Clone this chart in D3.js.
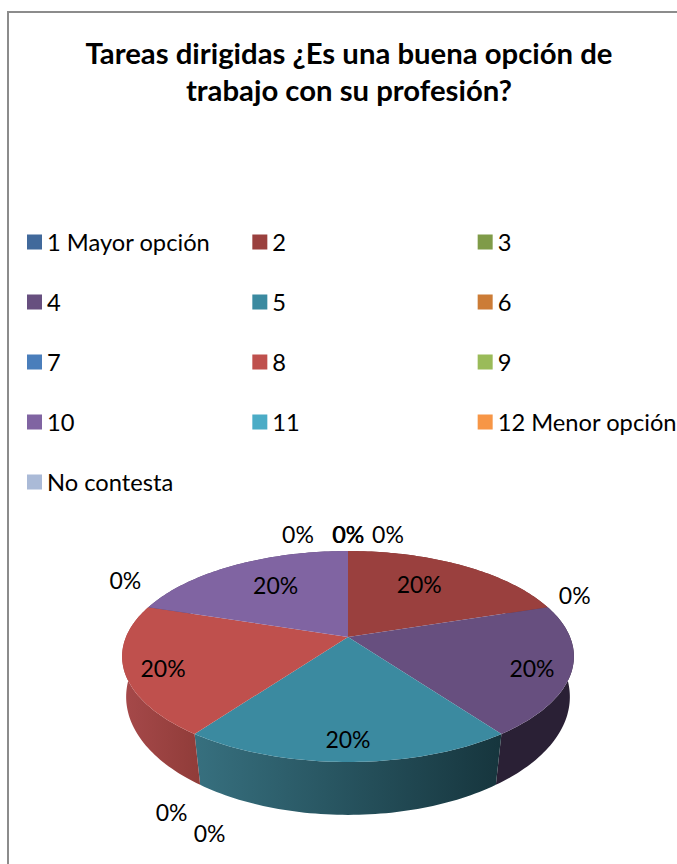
<!DOCTYPE html>
<html><head><meta charset="utf-8">
<style>html,body{margin:0;padding:0;background:#fff}svg{display:block}text{font-family:Lato,"Open Sans",sans-serif;fill:#000}</style>
<script src="https://cdn.jsdelivr.net/npm/d3@7"></script></head><body>
<script>
const categories = ["1 Mayor opción","2","3","4","5","6","7","8","9","10","11","12 Menor opción","No contesta"];
const values = [0,1,0,1,1,0,0,1,0,1,0,0,0];
const titleLines = ["Tareas dirigidas ¿Es una buena opción de","trabajo con su profesión?"];
const palette = ["#41699B","#9A403E","#7F9B48","#674F7F","#3B8AA0","#CC7C36","#4A7EBB","#BF504D","#9ABB59","#8064A2","#4BACC6","#F79646","#AABAD7"];

// layout, not data
const W=677,H=864;
const top3D={cx:348,cy:637,A:222,B:101.9,k:0.1848};
const bot3D={cx:348,cy:678,A:219,B:115,k:0.16};
const wallByCat={"4":["#2a2035","#2a2035"],"5":["#16353d","#37707f"],"8":["#903c39","#a6494a"],"2":["#7a3331","#7a3331"],"10":["#5a4672","#5a4672"]};
const labelNudge={"1 Mayor opción":[40,-16],"3":[27,-11],"6":[-23,79],"7":[15,100],"9":[-23,-26],"11":[-50,-16],"12 Menor opción":[0,-16],"No contesta":[0.6,-16]};
const midR={"2":[0.64,-5,-4],"4":[0.83,0,5],"5":[0.85,0,0],"8":[0.83,-1,5],"10":[0.66,6,-1]};

const svg=d3.select("body").append("svg").attr("width",W).attr("height",H);
svg.append("rect").attr("x",8).attr("y",12).attr("width",W+20).attr("height",H+20)
  .attr("fill","#fff").attr("stroke","#8c8c8c").attr("stroke-width",2);

svg.append("g").selectAll("text").data(titleLines).join("text")
  .attr("x",349).attr("y",(d,i)=>64+i*37).attr("text-anchor","middle")
  .attr("font-size",29.3).attr("font-weight",700).text(d=>d);

const color=d3.scaleOrdinal().domain(categories).range(palette);
const legendX=d3.scaleBand().domain([0,1,2]).range([27,703]);
const legendY=d3.scalePoint().domain([0,1,2,3,4]).range([242,482]);
const leg=svg.append("g").selectAll("g").data(categories).join("g")
  .attr("transform",(d,i)=>`translate(${legendX(i%3)},${legendY(Math.floor(i/3))})`);
leg.append("rect").attr("y",-7.5).attr("width",15).attr("height",15).attr("fill",d=>color(d));
leg.append("text").attr("x",20).attr("y",9).attr("font-size",23.7).text(d=>d);

const pie=d3.pie().sort(null).value((d,i)=>values[i]);
const arcs=pie(categories);
const proj=(p,th,r=1)=>{const u=r*Math.sin(th),v=r*Math.cos(th),w=1+p.k*v;return [p.cx+p.A*u/w,p.cy-p.B*v/w];};
const line=d3.line();
const thetas=(a,b)=>d3.range(0,61).map(i=>a+(b-a)*i/60);

const defs=svg.append("defs");
const nz=arcs.filter(d=>d.value>0);
const walls=svg.append("g");
nz.forEach((d,i)=>{
  const ts=thetas(d.startAngle,d.endAngle);
  const pts=ts.map(t=>proj(top3D,t)).concat(ts.slice().reverse().map(t=>proj(bot3D,t)));
  const stops=wallByCat[d.data];
  const xs=pts.map(p=>p[0]);
  const g=defs.append("linearGradient").attr("id","w"+i).attr("gradientUnits","userSpaceOnUse")
    .attr("x1",d.data==="5"?194:d3.min(xs)).attr("x2",d.data==="5"?502:d3.max(xs));
  g.append("stop").attr("offset",0).attr("stop-color",stops[1]);
  g.append("stop").attr("offset",1).attr("stop-color",stops[0]);
  walls.append("path").attr("d",line(pts)+"Z").attr("fill",`url(#w${i})`);
});
const tops=svg.append("g");
nz.forEach(d=>{
  const pts=[proj(top3D,0,0)].concat(thetas(d.startAngle,d.endAngle).map(t=>proj(top3D,t)));
  tops.append("path").attr("d",line(pts)+"Z").attr("fill",color(d.data));
});
const labels=svg.append("g").attr("text-anchor","middle").attr("font-size",23);
arcs.forEach(d=>{
  const pct=d3.format(".0%")(d.value/d3.sum(values));
  let x,y;
  if(d.value>0){
    const m=midR[d.data];
    const b=proj(top3D,(d.startAngle+d.endAngle)/2,m[0]);
    x=b[0]+m[1];y=b[1]+m[2];
  }else{
    const n=labelNudge[d.data];
    const b=proj(top3D,d.startAngle);
    x=b[0]+n[0];y=b[1]+n[1];
  }
  labels.append("text").attr("x",x).attr("y",y+8).text(pct);
});
</script></body></html>
